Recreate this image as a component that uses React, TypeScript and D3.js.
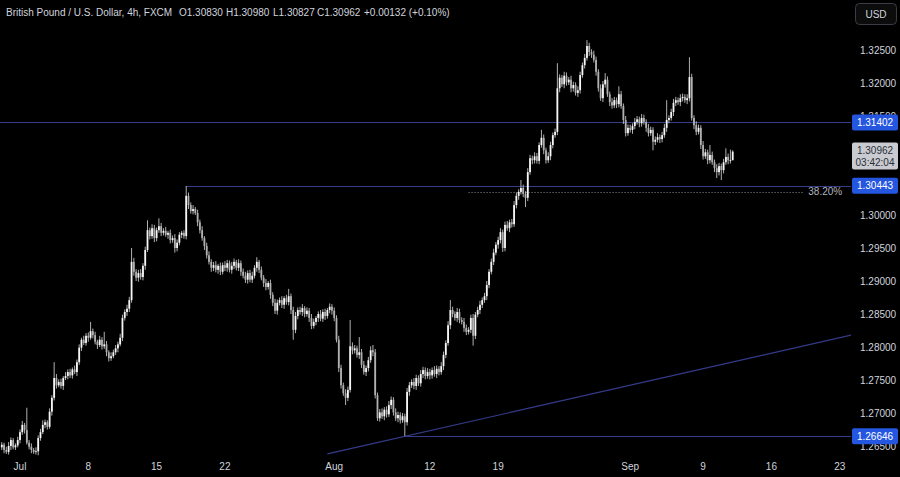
import React from 'react';
import * as d3 from 'd3';

const W = 900;
const H = 477;

// Prices stored as price × 10000 (4h GBP/USD bars, FXCM)
const firstOpen = 12648;

const julClose = [
  12652, 12644, 12641, 12650, 12659, 12648, 12651, 12659, 12671, 12682,
  12674, 12655, 12649, 12644, 12641, 12642, 12662, 12671, 12682, 12686,
  12679, 12702, 12723, 12753, 12742, 12747, 12741, 12753, 12756, 12762,
  12757, 12766, 12762, 12777, 12799, 12811, 12806, 12817, 12814, 12824,
  12818, 12808, 12803, 12811, 12801, 12804, 12792, 12783, 12786, 12792,
  12798, 12804, 12814, 12844, 12853, 12858, 12871, 12929, 12914, 12905,
  12912, 12906, 12923, 12947, 12977, 12968, 12980, 12965, 12977, 12983,
  12973, 12976, 12970, 12973, 12962, 12965, 12950, 12958, 12970, 12973,
  12968, 13029, 13015, 13006, 13009, 13003, 12989, 12977, 12965, 12953,
  12939, 12929, 12920, 12924, 12917, 12923, 12914, 12924, 12920, 12927,
  12917, 12923, 12929, 12920, 12927, 12914, 12908, 12902, 12912, 12902,
  12908, 12920, 12929, 12917, 12905, 12897, 12891, 12897, 12879, 12867,
  12855, 12867, 12871, 12864, 12874, 12868, 12877, 12856, 12826, 12847,
  12856, 12853, 12859, 12850, 12855, 12844, 12832, 12838, 12844, 12850,
  12843, 12853, 12847, 12856, 12861, 12855,
];
const julWickUp = [
  4, 3, 5, 6, 4, 3, 3, 5, 4, 6,
  3, 34, 4, 5, 3, 6, 4, 5, 7, 4,
  3, 5, 4, 24, 6, 4, 5, 3, 6, 4,
  5, 3, 6, 4, 5, 3, 6, 4, 5, 14,
  4, 5, 3, 6, 4, 19, 5, 3, 6, 4,
  5, 4, 6, 5, 4, 6, 5, 21, 6, 4,
  5, 6, 4, 5, 15, 4, 6, 5, 4, 12,
  5, 4, 6, 3, 5, 4, 6, 5, 4, 3,
  4, 15, 5, 4, 6, 3, 5, 4, 6, 3,
  5, 6, 4, 5, 6, 3, 5, 4, 6, 5,
  4, 6, 5, 3, 6, 4, 5, 6, 4, 5,
  6, 4, 7, 3, 5, 4, 6, 3, 5, 4,
  6, 5, 4, 6, 3, 5, 11, 4, 5, 6,
  4, 5, 6, 3, 5, 4, 6, 5, 3, 4,
  6, 4, 5, 3, 5, 4,
];
const julWickDown = [
  4, 5, 3, 4, 6, 3, 4, 3, 5, 4,
  5, 3, 4, 5, 3, 4, 6, 4, 3, 5,
  4, 3, 6, 4, 5, 3, 4, 6, 3, 5,
  4, 5, 3, 6, 4, 5, 3, 4, 6, 3,
  5, 4, 6, 3, 5, 4, 6, 5, 4, 3,
  4, 6, 3, 5, 4, 6, 5, 4, 6, 5,
  6, 4, 5, 6, 3, 5, 4, 6, 5, 4,
  5, 4, 3, 6, 5, 4, 7, 5, 4, 5,
  4, 5, 6, 4, 5, 3, 6, 5, 4, 6,
  5, 4, 6, 5, 4, 6, 5, 4, 5, 6,
  4, 6, 5, 4, 5, 6, 4, 5, 6, 4,
  5, 4, 6, 5, 4, 6, 5, 4, 6, 5,
  5, 6, 4, 5, 6, 4, 5, 6, 15, 5,
  5, 4, 6, 5, 4, 6, 5, 4, 5, 6,
  4, 5, 6, 4, 5, 6,
];

const augClose = [
  12844, 12811, 12768, 12742, 12730, 12723, 12735, 12801, 12795, 12798,
  12788, 12792, 12773, 12762, 12768, 12780, 12795, 12792, 12727, 12692,
  12701, 12695, 12705, 12698, 12712, 12720, 12701, 12692, 12697, 12689,
  12695, 12686, 12732, 12742, 12747, 12741, 12753, 12745, 12759, 12765,
  12756, 12762, 12757, 12765, 12759, 12767, 12762, 12771, 12788, 12806,
  12833, 12856, 12850, 12844, 12853, 12841, 12838, 12829, 12823, 12826,
  12844, 12817, 12849, 12856, 12864, 12871, 12877, 12894, 12914, 12929,
  12943, 12955, 12962, 12974, 12950, 12985, 12980, 12989, 12986, 13015,
  13029, 13035, 13041, 13032, 13026, 13065, 13086, 13083, 13089, 13082,
  13106, 13117, 13098, 13083, 13089, 13106, 13121, 13126, 13192, 13208,
  13198, 13211, 13201, 13205, 13192, 13197, 13185, 13189, 13212, 13227,
  13238, 13256, 13247, 13243, 13235, 13217, 13192, 13177, 13198, 13205,
  13183, 13171, 13166, 13174, 13168, 13183, 13165, 13144, 13124, 13132,
];
const augWickUp = [
  5, 4, 6, 5, 4, 6, 5, 40, 6, 5,
  4, 23, 5, 6, 4, 5, 6, 8, 5, 4,
  5, 6, 4, 5, 6, 5, 4, 6, 5, 4,
  5, 4, 6, 5, 4, 6, 5, 4, 6, 5,
  4, 6, 5, 4, 6, 5, 4, 6, 5, 4,
  6, 15, 5, 4, 6, 5, 4, 6, 5, 4,
  5, 6, 4, 5, 6, 4, 5, 6, 4, 5,
  6, 4, 5, 6, 4, 5, 6, 4, 5, 6,
  5, 4, 12, 5, 4, 6, 5, 4, 6, 5,
  4, 12, 5, 4, 6, 5, 4, 5, 38, 5,
  4, 6, 5, 4, 6, 5, 4, 6, 5, 4,
  6, 9, 5, 4, 6, 5, 4, 6, 5, 10,
  5, 4, 6, 5, 4, 12, 5, 4, 6, 5,
];
const augWickDown = [
  5, 4, 6, 5, 4, 11, 5, 4, 6, 5,
  4, 6, 5, 4, 6, 5, 4, 6, 5, 4,
  5, 4, 6, 5, 4, 6, 5, 4, 6, 5,
  4, 21, 5, 6, 4, 5, 6, 4, 5, 6,
  5, 4, 6, 5, 4, 6, 5, 4, 6, 5,
  4, 6, 5, 4, 6, 5, 4, 6, 5, 4,
  5, 15, 5, 4, 6, 5, 4, 6, 5, 4,
  5, 4, 6, 5, 6, 5, 4, 6, 5, 4,
  5, 6, 4, 5, 14, 5, 4, 6, 5, 4,
  5, 4, 6, 5, 4, 6, 5, 4, 5, 6,
  4, 6, 5, 4, 6, 5, 4, 6, 5, 4,
  5, 4, 6, 5, 4, 6, 5, 4, 6, 5,
  4, 6, 5, 4, 6, 5, 4, 6, 5, 4,
];

const sepClose = [
  13129, 13135, 13141, 13145, 13139, 13147, 13141, 13132, 13124, 13129,
  13111, 13114, 13118, 13115, 13121, 13132, 13144, 13147, 13156, 13170,
  13174, 13171, 13177, 13179, 13174, 13177, 13209, 13147, 13136, 13126,
  13132, 13106, 13089, 13095, 13083, 13091, 13080, 13071, 13065, 13074,
  13068, 13080, 13088, 13083, 13083, 13096,
];
const sepWickUp = [
  5, 4, 6, 5, 4, 6, 5, 4, 6, 5,
  4, 5, 6, 4, 5, 6, 30, 4, 5, 6,
  5, 4, 6, 5, 4, 6, 30, 5, 4, 6,
  5, 4, 6, 5, 4, 15, 5, 4, 6, 5,
  4, 5, 13, 5, 16, 2,
];
const sepWickDown = [
  4, 6, 5, 4, 6, 5, 4, 6, 5, 4,
  13, 5, 4, 6, 5, 4, 6, 5, 4, 6,
  5, 4, 6, 5, 4, 6, 5, 4, 6, 5,
  4, 6, 5, 4, 6, 5, 4, 6, 9, 5,
  15, 5, 4, 6, 5, 0,
];

const priceTicks = [1.265, 1.27, 1.275, 1.28, 1.285, 1.29, 1.295, 1.3, 1.305, 1.31, 1.315, 1.32, 1.325];
const dateTicks = [
  { bar: 8, label: 'Jul' },
  { bar: 38, label: '8' },
  { bar: 68, label: '15' },
  { bar: 98, label: '22' },
  { bar: 146, label: 'Aug' },
  { bar: 188, label: '12' },
  { bar: 218, label: '19' },
  { bar: 276, label: 'Sep' },
  { bar: 308, label: '9' },
  { bar: 338, label: '16' },
  { bar: 368, label: '23' },
];
const levels = [
  { price: 1.31402, fromBar: -1 },
  { price: 1.30443, fromBar: 81 },
  { price: 1.26646, fromBar: 177 },
];
const fibLevel = { price: 1.30354, fromBar: 205, toBar: 352, label: '38.20%' };
const trendLine = [
  { bar: 143, price: 1.2638 },
  { bar: 373, price: 1.2818 },
];
const lastPrice = 1.30962;
const countdown = '03:42:04';
const titleParts = [
  { text: 'British Pound / U.S. Dollar, 4h, FXCM', x: 6 },
  { text: 'O1.30830', x: 179 },
  { text: 'H1.30980', x: 226 },
  { text: 'L1.30827', x: 273 },
  { text: 'C1.30962', x: 317 },
  { text: '+0.00132 (+0.10%)', x: 364 },
];

const FONT = "'Liberation Sans', Arial, sans-serif";
const PLOT_R = 851;

export default function App() {
  const closes = [...julClose, ...augClose, ...sepClose];
  const wu = [...julWickUp, ...augWickUp, ...sepWickUp];
  const wd = [...julWickDown, ...augWickDown, ...sepWickDown];
  const candles = closes.map((c, i) => {
    const o = i === 0 ? firstOpen : closes[i - 1];
    const hi = Math.max(o, c) + (wu[i] ?? 4);
    const lo = Math.min(o, c) - (wd[i] ?? 4);
    return { i, o: o / 1e4, c: c / 1e4, h: hi / 1e4, l: lo / 1e4 };
  });

  const x = d3.scaleLinear().domain([0, 368]).range([1.78, 1.78 + 2.277 * 368]);
  const y = d3.scaleLinear().domain([1.265, 1.325]).range([446, 50]);
  const bw = 1.8;

  const lineColor = '#353c8c';
  const axisText = '#d1d4dc';
  const boxBlue = '#2456e0';

  const lastY = y(lastPrice);
  // price-axis labels fully covered by a marker box are not drawn (hidden in the reference)
  const visibleTicks = priceTicks.filter((t) => {
    const ty = y(t);
    if (ty > lastY - 10 && ty < lastY + 19) return false;
    return levels.every((l) => Math.abs(ty - y(l.price)) > 3.5);
  });

  return (
    <svg
      width={W}
      height={H}
      viewBox={`0 0 ${W} ${H}`}
      style={{ position: 'absolute', left: 0, top: 0, background: '#000' }}
    >
      <rect x={0} y={0} width={W} height={H} fill="#000" />
      <defs>
        <clipPath id="plot">
          <rect x={0} y={0} width={PLOT_R} height={H} />
        </clipPath>
      </defs>

      <g clipPath="url(#plot)">
        {levels.map((lv, k) => (
          <line
            key={k}
            x1={lv.fromBar < 0 ? 0 : x(lv.fromBar)}
            x2={PLOT_R}
            y1={Math.round(y(lv.price)) + 0.5}
            y2={Math.round(y(lv.price)) + 0.5}
            stroke={lineColor}
            strokeWidth={1}
          />
        ))}
        <line
          x1={x(fibLevel.fromBar)}
          x2={x(fibLevel.toBar)}
          y1={Math.round(y(fibLevel.price)) + 0.5}
          y2={Math.round(y(fibLevel.price)) + 0.5}
          stroke="#8a8d96"
          strokeWidth={1}
          strokeDasharray="1 2"
        />
        <line
          x1={x(trendLine[0].bar)}
          y1={y(trendLine[0].price)}
          x2={x(trendLine[1].bar)}
          y2={y(trendLine[1].price)}
          stroke={lineColor}
          strokeWidth={1.2}
        />
        {candles.map((d) => {
          const cx = x(d.i);
          const up = d.c >= d.o;
          const top = y(Math.max(d.o, d.c));
          const bot = y(Math.min(d.o, d.c));
          return (
            <g key={d.i}>
              <line x1={cx} x2={cx} y1={y(d.h)} y2={y(d.l)} stroke="#c4c4c4" strokeWidth={0.9} />
              <rect
                x={cx - bw / 2}
                y={top}
                width={bw}
                height={Math.max(0.8, bot - top)}
                fill={up ? '#f6f6f6' : '#b0b0b0'}
              />
            </g>
          );
        })}
      </g>

      <text
        x={x(fibLevel.toBar) + 5}
        y={y(fibLevel.price)}
        dy="0.35em"
        fill="#b2b5be"
        fontSize={10}
        fontFamily={FONT}
      >
        {fibLevel.label}
      </text>

      {/* title */}
      <text y={16} fill={axisText} fontSize={10} fontFamily={FONT}>
        {titleParts.map((p, k) => (
          <tspan key={k} x={p.x}>
            {p.text}
          </tspan>
        ))}
      </text>

      {/* price axis */}
      {visibleTicks.map((t) => (
        <text
          key={t}
          x={860}
          y={y(t)}
          dy="0.35em"
          fill={axisText}
          fontSize={10}
          fontFamily={FONT}
        >
          {t.toFixed(5)}
        </text>
      ))}

      {levels.map((lv, k) => {
        const cy = y(lv.price);
        return (
          <g key={k}>
            <rect x={852} y={cy - 8} width={46} height={16} rx={2} fill={boxBlue} />
            <text
              x={875}
              y={cy}
              dy="0.35em"
              textAnchor="middle"
              fill="#ffffff"
              fontSize={10}
              fontFamily={FONT}
            >
              {lv.price.toFixed(5)}
            </text>
          </g>
        );
      })}

      <g>
        <rect x={852} y={lastY - 9} width={46} height={27} rx={2} fill="#c9cbd0" />
        <text x={875} y={lastY - 1} dy="0.35em" textAnchor="middle" fill="#2a2e39" fontSize={10} fontFamily={FONT}>
          {lastPrice.toFixed(5)}
        </text>
        <text x={875} y={lastY + 11} dy="0.35em" textAnchor="middle" fill="#2a2e39" fontSize={10} fontFamily={FONT}>
          {countdown}
        </text>
      </g>

      {/* USD badge */}
      <rect x={855.5} y={3.5} width={41} height={21} rx={4} fill="#0c0c0c" stroke="#3a3d46" />
      <text x={876} y={14} dy="0.35em" textAnchor="middle" fill={axisText} fontSize={10} fontFamily={FONT}>
        USD
      </text>

      {/* time axis */}
      {dateTicks.map((t) => (
        <text
          key={t.label}
          x={x(t.bar)}
          y={466}
          dy="0.35em"
          textAnchor="middle"
          fill={axisText}
          fontSize={10}
          fontFamily={FONT}
        >
          {t.label}
        </text>
      ))}
    </svg>
  );
}
